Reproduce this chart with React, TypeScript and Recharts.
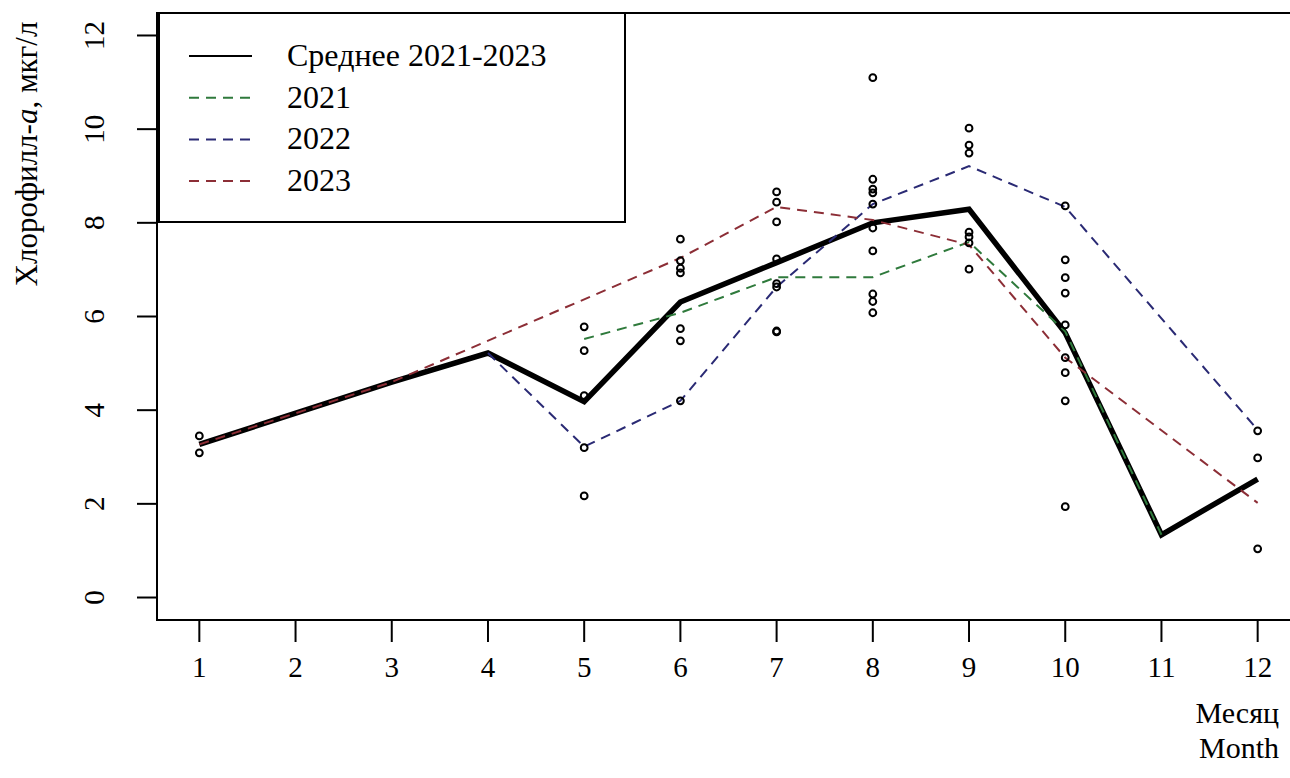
import React from 'react';
import {
  ComposedChart,
  Line,
  Scatter,
  XAxis,
  YAxis,
  Label,
  Legend,
  ReferenceArea,
} from 'recharts';

const months = [1, 2, 3, 4, 5, 6, 7, 8, 9, 10, 11, 12];
const yTicks = [0, 2, 4, 6, 8, 10, 12];

// monthly means and yearly lines, null = no value that month
const meanValues = [3.27, null, 4.6, 5.22, 4.18, 6.31, 7.15, 8.0, 8.29, 5.65, 1.34, 2.53];
const values2021 = [null, null, null, null, 5.52, 6.08, 6.84, 6.84, 7.59, 5.68, 1.34, null];
const values2022 = [null, null, null, 5.22, 3.22, 4.2, 6.63, 8.4, 9.21, 8.34, null, 3.58];
const values2023 = [3.27, null, 4.6, null, null, 7.25, 8.34, 8.06, 7.53, 5.12, null, 2.02];

// individual measurements per month
const observations: [number, number[]][] = [
  [1, [3.45, 3.09]],
  [5, [5.78, 5.27, 4.31, 3.2, 2.17]],
  [6, [7.65, 7.19, 7.03, 6.93, 5.74, 5.48, 4.2]],
  [7, [8.66, 8.44, 8.02, 7.23, 6.7, 6.63, 5.69, 5.67]],
  [8, [11.1, 8.93, 8.72, 8.64, 8.4, 7.89, 7.4, 6.48, 6.32, 6.08]],
  [9, [10.02, 9.66, 9.49, 7.8, 7.7, 7.57, 7.01]],
  [10, [8.36, 7.21, 6.83, 6.5, 5.82, 5.12, 4.8, 4.2, 1.94]],
  [12, [3.56, 2.98, 1.04]],
];

const X_DOMAIN = [0.56, 12.44];
const Y_DOMAIN = [-0.48, 12.48];

const FONT = '"Liberation Serif", "Times New Roman", serif';
const GREEN = '#2f7a3c';
const BLUE = '#2a2a74';
const RED = '#8c2e36';

const toSeries = (vals: (number | null)[]) =>
  months.map((m, i) => ({ month: m, v: vals[i] }));

const meanData = toSeries(meanValues);
const data2021 = toSeries(values2021);
const data2022 = toSeries(values2022);
const data2023 = toSeries(values2023);
const pointData = observations.flatMap(([m, vals]) => vals.map((v) => ({ month: m, v })));

const legendItems = [
  { name: 'Среднее 2021-2023', color: '#000', dash: undefined },
  { name: '2021', color: GREEN, dash: '10 7' },
  { name: '2022', color: BLUE, dash: '10 7' },
  { name: '2023', color: RED, dash: '10 7' },
];

const textStyle: React.CSSProperties = { fontFamily: FONT };

const renderXTick = (props: any) => {
  const { x, y, payload } = props;
  return (
    <text x={x} y={y + 33} textAnchor="middle" style={textStyle} fontSize={29} fill="#000">
      {payload.value}
    </text>
  );
};

const renderYTick = (props: any) => {
  const { x, y, payload } = props;
  return (
    <text
      transform={`translate(${x - 31}, ${y}) rotate(-90)`}
      textAnchor="middle"
      style={textStyle}
      fontSize={29}
      fill="#000"
    >
      {payload.value}
    </text>
  );
};

const renderYLabel = (props: any) => {
  const { viewBox } = props;
  return (
    <text
      transform={`translate(${viewBox.x + 37}, ${viewBox.y + 141}) rotate(-90)`}
      textAnchor="middle"
      style={textStyle}
      fontSize={31}
      fill="#000"
    >
      Хлорофилл-<tspan fontStyle="italic">a</tspan>, мкг/л
    </text>
  );
};

const renderXLabel = (props: any) => {
  const { viewBox } = props;
  const right = viewBox.x + viewBox.width - 21;
  return (
    <g style={textStyle} fontSize={30} fill="#000">
      <text x={right} y={viewBox.y + 103} textAnchor="end">Месяц</text>
      <text x={right} y={viewBox.y + 138} textAnchor="end">Month</text>
    </g>
  );
};

const renderLegend = () => (
  <svg width={470} height={214} style={{ display: 'block' }}>
    <rect x={1} y={1} width={466} height={209} fill="#fff" stroke="#000" strokeWidth={2} />
    {legendItems.map((item, i) => {
      const cy = 44 + i * 41.7;
      return (
        <g key={item.name}>
          <line
            x1={31}
            x2={94}
            y1={cy}
            y2={cy}
            stroke={item.color}
            strokeWidth={2}
            strokeDasharray={item.dash}
          />
          <text x={129} y={cy + 10} style={textStyle} fontSize={32} fill="#000">
            {item.name}
          </text>
        </g>
      );
    })}
  </svg>
);

const circleShape = (props: any) => (
  <circle cx={props.cx} cy={props.cy} r={3.4} fill="none" stroke="#000" strokeWidth={2} />
);

export default function App() {
  return (
    <div
      style={{
        position: 'absolute',
        left: 0,
        top: 0,
        width: 1290,
        height: 778,
        overflow: 'hidden',
        background: '#fff',
      }}
    >
      <ComposedChart
        width={1310}
        height={778}
        margin={{ top: 13, right: 10, bottom: 0, left: 0 }}
      >
        <XAxis
          type="number"
          dataKey="month"
          domain={X_DOMAIN}
          allowDataOverflow
          ticks={months}
          interval={0}
          height={158}
          tickSize={22}
          axisLine={false}
          tickLine={{ stroke: '#000', strokeWidth: 2 }}
          tick={renderXTick}
        >
          <Label content={renderXLabel} />
        </XAxis>
        <YAxis
          type="number"
          domain={Y_DOMAIN}
          allowDataOverflow
          ticks={yTicks}
          interval={0}
          width={157}
          tickSize={20}
          axisLine={false}
          tickLine={{ stroke: '#000', strokeWidth: 2 }}
          tick={renderYTick}
        >
          <Label content={renderYLabel} />
        </YAxis>
        <ReferenceArea
          x1={X_DOMAIN[0]}
          x2={X_DOMAIN[1]}
          y1={Y_DOMAIN[0]}
          y2={Y_DOMAIN[1]}
          ifOverflow="visible"
          fill="none"
          stroke="#000"
          strokeWidth={2}
        />
        <Scatter data={pointData} dataKey="v" shape={circleShape} isAnimationActive={false} />
        {/* mean first, the yearly dashed lines sit on top of it */}
        <Line
          data={meanData}
          dataKey="v"
          type="linear"
          stroke="#000"
          strokeWidth={5.5}
          dot={false}
          activeDot={false}
          connectNulls
          isAnimationActive={false}
        />
        <Line
          data={data2021}
          dataKey="v"
          type="linear"
          stroke={GREEN}
          strokeWidth={2}
          strokeDasharray="10 7"
          dot={false}
          activeDot={false}
          connectNulls
          isAnimationActive={false}
        />
        <Line
          data={data2022}
          dataKey="v"
          type="linear"
          stroke={BLUE}
          strokeWidth={2}
          strokeDasharray="10 7"
          dot={false}
          activeDot={false}
          connectNulls
          isAnimationActive={false}
        />
        <Line
          data={data2023}
          dataKey="v"
          type="linear"
          stroke={RED}
          strokeWidth={2}
          strokeDasharray="10 7"
          dot={false}
          activeDot={false}
          connectNulls
          isAnimationActive={false}
        />
        <Legend
          layout="horizontal"
          verticalAlign="middle"
          align="center"
          content={renderLegend}
          wrapperStyle={{ left: 158, top: 12, width: 470, height: 214 }}
        />
      </ComposedChart>
    </div>
  );
}
